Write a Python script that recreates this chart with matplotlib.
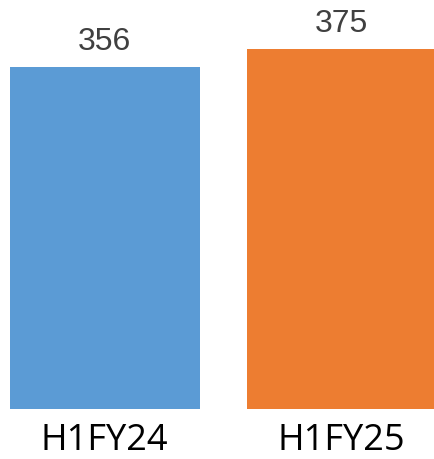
import matplotlib
matplotlib.use("Agg")
import matplotlib.pyplot as plt

categories = ["H1FY24", "H1FY25"]
values = [356, 375]
colors = ["#5B9BD5", "#ED7D31"]

W, H = 434, 459
fig = plt.figure(figsize=(W / 100, H / 100), dpi=100)
ax = fig.add_axes([0, 50 / H, 1, 409 / H])
x = list(range(len(categories)))
ax.bar(x, values, width=0.8, color=colors)
ax.set_xlim(-0.4 - 10 / 237, -0.4 - 10 / 237 + 434 / 237)
ax.set_ylim(0, 409 / 0.96)
for xi, v in zip(x, values):
    ax.annotate(str(v), (xi, v), xytext=(0, 12.5), textcoords="offset points",
                ha="center", va="baseline", fontsize=23, color="#404040",
                fontfamily="Liberation Sans")
ax.set_xticks(x, categories)
ax.tick_params(axis="x", length=0, pad=10, labelsize=26)
for lab in ax.get_xticklabels():
    lab.set_fontfamily("Open Sans")
    lab.set_color("black")
ax.set_yticks([])
for s in ax.spines.values():
    s.set_visible(False)
fig.savefig("out.png", dpi=100)
